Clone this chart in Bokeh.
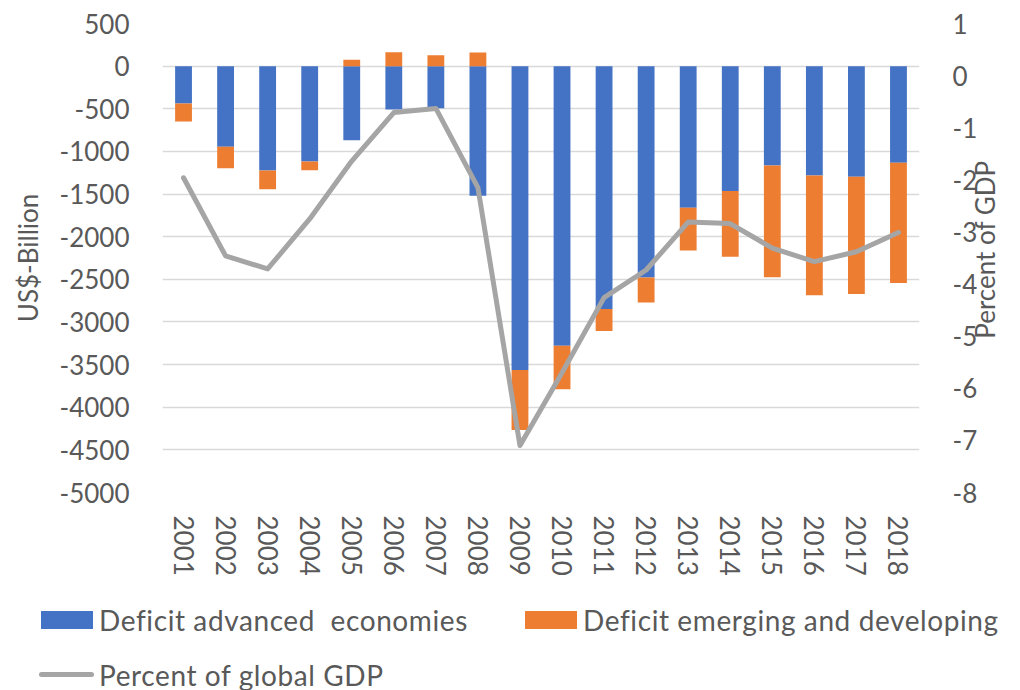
import math
from bokeh.plotting import figure
from bokeh.layouts import column
from bokeh.models import (Range1d, LinearAxis, FactorRange, FixedTicker,
                          ColumnDataSource, Div)
from bokeh.embed import file_html
from bokeh.resources import INLINE

years = ["2001", "2002", "2003", "2004", "2005", "2006", "2007", "2008", "2009",
         "2010", "2011", "2012", "2013", "2014", "2015", "2016", "2017", "2018"]
advanced = [-438, -946, -1224, -1119, -868, -508, -493, -1521, -3563,
            -3278, -2848, -2480, -1662, -1463, -1165, -1283, -1298, -1134]
emerging = [-211, -251, -219, -101, 75, 164, 129, 161, -705,
            -510, -258, -293, -501, -771, -1311, -1405, -1374, -1409]
pct_gdp = [-1.96, -3.46, -3.71, -2.75, -1.64, -0.71, -0.63, -2.15, -7.10,
           -5.70, -4.26, -3.73, -2.81, -2.84, -3.31, -3.57, -3.38, -3.01]
left_ticks = [500, 0, -500, -1000, -1500, -2000, -2500, -3000, -3500, -4000, -4500, -5000]
right_ticks = [1, 0, -1, -2, -3, -4, -5, -6, -7, -8]
labels = ["Deficit advanced  economies", "Deficit emerging and developing",
          "Percent of global GDP"]

FONT = "Lato"
TXT = "#595959"
FS = "26px"
BLUE, ORANGE, GRAY = "#4472C4", "#ED7D31", "#A5A5A5"
RIGHT_TITLE_START = -5.05   # point on the percent scale where the upward-reading title begins

# Excel-style stacking: negatives stack below the advanced bar, positives start at 0
em_top = [a if e < 0 else e for a, e in zip(advanced, emerging)]
em_bottom = [a + e if e < 0 else 0 for a, e in zip(advanced, emerging)]

src = ColumnDataSource(dict(years=years, adv=advanced, zero=[0] * len(years),
                            em_top=em_top, em_bottom=em_bottom, pct=pct_gdp))

p = figure(width=1020, height=590,
           x_range=FactorRange(factors=years, range_padding=0),
           y_range=Range1d(-5000, 500),
           output_backend="svg", toolbar_location=None,
           min_border_left=162, min_border_right=100,
           min_border_top=23, min_border_bottom=98)
p.outline_line_color = None
p.extra_y_ranges = {"pct": Range1d(-8, 1)}

p.vbar(x="years", top="zero", bottom="adv", width=0.4, source=src,
       fill_color=BLUE, line_color=None)
p.vbar(x="years", top="em_top", bottom="em_bottom", width=0.4, source=src,
       fill_color=ORANGE, line_color=None)
p.line(x="years", y="pct", source=src, y_range_name="pct",
       line_color=GRAY, line_width=5, line_cap="round", line_join="round")

p.xgrid.grid_line_color = None
p.ygrid.grid_line_color = "#D9D9D9"
p.ygrid.grid_line_width = 1.3
p.ygrid.ticker = FixedTicker(ticks=left_ticks)


def style_axis(ax, standoff):
    ax.axis_line_color = None
    ax.major_tick_line_color = None
    ax.minor_tick_line_color = None
    ax.major_tick_in = 0
    ax.major_tick_out = 0
    ax.minor_tick_in = 0
    ax.minor_tick_out = 0
    ax.major_label_standoff = standoff
    ax.major_label_text_font = FONT
    ax.major_label_text_font_size = FS
    ax.major_label_text_color = TXT
    ax.axis_label_text_font = FONT
    ax.axis_label_text_font_size = FS
    ax.axis_label_text_font_style = "normal"
    ax.axis_label_text_color = TXT


ya = p.yaxis[0]
ya.ticker = FixedTicker(ticks=left_ticks)
ya.major_label_overrides = {t: str(t) for t in left_ticks}
ya.axis_label = "US$-Billion"
style_axis(ya, 33)
ya.axis_label_standoff = 13

ra = LinearAxis(y_range_name="pct", ticker=FixedTicker(ticks=right_ticks))
ra.major_label_overrides = {t: str(t) for t in right_ticks}
style_axis(ra, 33)
p.add_layout(ra, "right")

# right-hand title, written as the single label of an outer axis so it reads upwards
rt = LinearAxis(y_range_name="pct", ticker=FixedTicker(ticks=[RIGHT_TITLE_START]))
rt.major_label_overrides = {RIGHT_TITLE_START: "Percent of GDP"}
style_axis(rt, 5)
rt.major_label_orientation = math.pi / 2
rt.major_label_text_baseline = "top"
p.add_layout(rt, "right")

xa = p.xaxis[0]
xa.major_label_orientation = "vertical"
style_axis(xa, 23)

# legend strip under the chart
legend_html = (
    f'<div style="position:relative;width:1020px;height:100px;font-family:{FONT};'
    f'font-size:28px;letter-spacing:0.6px;color:{TXT};white-space:pre;">'
    f'<div style="position:absolute;left:41px;top:21px;width:52px;height:18px;background:{BLUE};"></div>'
    f'<div style="position:absolute;left:99px;top:14px;line-height:32px;">{labels[0]}</div>'
    f'<div style="position:absolute;left:525px;top:21px;width:52px;height:18px;background:{ORANGE};"></div>'
    f'<div style="position:absolute;left:583px;top:14px;line-height:32px;">{labels[1]}</div>'
    f'<div style="position:absolute;left:39px;top:82px;width:55px;height:5px;border-radius:3px;background:{GRAY};"></div>'
    f'<div style="position:absolute;left:99px;top:69px;line-height:32px;">{labels[2]}</div>'
    '</div>'
)
legend = Div(text=legend_html, width=1020, height=100, margin=0)

layout = column(p, legend, spacing=0)
open("out.html", "w").write(file_html(layout, INLINE))
